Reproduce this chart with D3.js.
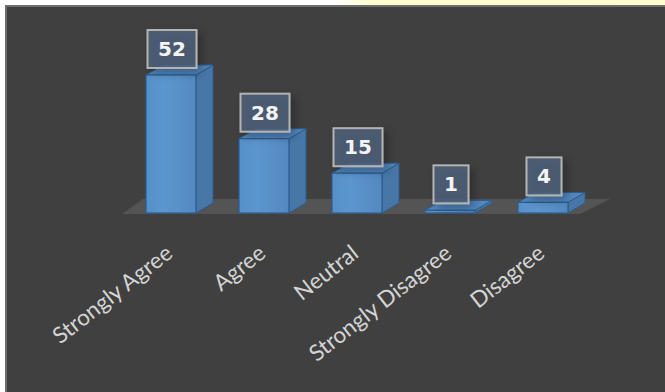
<!DOCTYPE html>
<html>
<head>
<meta charset="utf-8">
<script src="https://cdnjs.cloudflare.com/ajax/libs/d3/7.8.5/d3.min.js"></script>
<style>
html,body{margin:0;padding:0;background:#fff;}
svg{display:block;}
</style>
</head>
<body>
<svg id="chart" width="665" height="392"></svg>
<script>
const categories = ["Strongly Agree", "Agree", "Neutral", "Strongly Disagree", "Disagree"];
const values = [52, 28, 15, 1, 4];
const valueLabels = ["52", "28", "15", "1", "4"];

const W = 665, H = 392;
const svg = d3.select("#chart");
const defs = svg.append("defs");

// top strip
const topGrad = defs.append("linearGradient").attr("id","topStrip").attr("x1","0").attr("x2","1");
topGrad.append("stop").attr("offset","0.5").attr("stop-color","#ffffff");
topGrad.append("stop").attr("offset","0.56").attr("stop-color","#fdfdd0");
topGrad.append("stop").attr("offset","1").attr("stop-color","#fefece");
svg.append("rect").attr("x",0).attr("y",0).attr("width",W).attr("height",6).attr("fill","url(#topStrip)");

// chart area with border
svg.append("rect").attr("x",5).attr("y",5).attr("width",W-5).attr("height",H-5).attr("fill","#6e6e6e");
svg.append("rect").attr("x",7).attr("y",7).attr("width",W-7).attr("height",H-7).attr("fill","#404040");

// scales
const x = d3.scaleBand().domain(categories).range([146, 568]).paddingInner(43/93).paddingOuter(0);
const y = d3.scaleLinear().domain([0, 52]).range([213, 75]);
const dx = 17, dy = -10;
const bw = x.bandwidth();
const y0 = y(0);

// floor
const fl = x.range()[0] - 24, fr = x.range()[1] + 12;
svg.append("path")
  .attr("d", `M${fl},${y0+1} L${fr},${y0+1} L${fr+30},${y0-14} L${fl+21},${y0-14} Z`)
  .attr("fill", "#545454");

// gradients
const fg = defs.append("linearGradient").attr("id","front").attr("x1","0").attr("x2","1");
fg.append("stop").attr("offset","0").attr("stop-color","#5790c8");
fg.append("stop").attr("offset","0.35").attr("stop-color","#5c96ce");
fg.append("stop").attr("offset","1").attr("stop-color","#5489c0");

// shadow filter
const sh = defs.append("filter").attr("id","shadow").attr("x","-50%").attr("y","-50%").attr("width","200%").attr("height","200%");
sh.append("feGaussianBlur").attr("in","SourceAlpha").attr("stdDeviation",5);
sh.append("feOffset").attr("dx",4).attr("dy",4).attr("result","b");
sh.append("feComponentTransfer").append("feFuncA").attr("type","linear").attr("slope",0.35);
const mg = sh.append("feMerge");
mg.append("feMergeNode");
mg.append("feMergeNode").attr("in","SourceGraphic");

const data = categories.map((c,i)=>({c, v: values[i], lab: valueLabels[i]}));

const bars = svg.append("g").selectAll("g").data(data).join("g");
const stroke = "#2c5d8e";
// side face
bars.append("path")
  .attr("d", d => {
    const xr = x(d.c) + bw, yt = y(d.v);
    return `M${xr},${y0} L${xr+dx},${y0+dy} L${xr+dx},${yt+dy} L${xr},${yt} Z`;
  })
  .attr("fill", "#4777a7").attr("stroke", stroke).attr("stroke-width", 1).attr("stroke-linejoin","round");
// top face
bars.append("path")
  .attr("d", d => {
    const xl = x(d.c), yt = y(d.v);
    return `M${xl},${yt} L${xl+bw},${yt} L${xl+bw+dx},${yt+dy} L${xl+dx},${yt+dy} Z`;
  })
  .attr("fill", "#5286bd").attr("stroke", stroke).attr("stroke-width", 1).attr("stroke-linejoin","round");
// front face
bars.append("rect")
  .attr("x", d => x(d.c)).attr("y", d => y(d.v))
  .attr("width", bw).attr("height", d => y0 - y(d.v))
  .attr("fill", "url(#front)").attr("stroke", stroke).attr("stroke-width", 1.2);

// value labels
const lab = svg.append("g").selectAll("g").data(data).join("g")
  .attr("transform", d => `translate(${x(d.c) + bw/2 + 1},${y(d.v) - 7})`);
lab.append("rect")
  .attr("x", d => -(d.lab.length*14 + 21)/2)
  .attr("y", -38)
  .attr("width", d => d.lab.length*14 + 21)
  .attr("height", 38)
  .attr("fill", "rgba(78,98,122,0.82)")
  .attr("stroke", "#b3b3b3").attr("stroke-width", 2)
  .attr("filter", "url(#shadow)");
lab.append("text")
  .attr("x", 0).attr("y", -12)
  .attr("text-anchor", "middle")
  .attr("font-family", "DejaVu Sans")
  .attr("font-weight", "bold")
  .attr("font-size", 20)
  .attr("fill", "#f4f4f4")
  .text(d => d.lab);

// category labels
svg.append("g").selectAll("text").data(categories).join("text")
  .attr("transform", c => `translate(${x(c) + bw/2 + 3},${256}) rotate(-38)`)
  .attr("text-anchor", "end")
  .attr("font-family", "Lato")
  .attr("font-size", 22.5)
  .attr("fill", "#d4d4d4")
  .text(c => c);
</script>
</body>
</html>
